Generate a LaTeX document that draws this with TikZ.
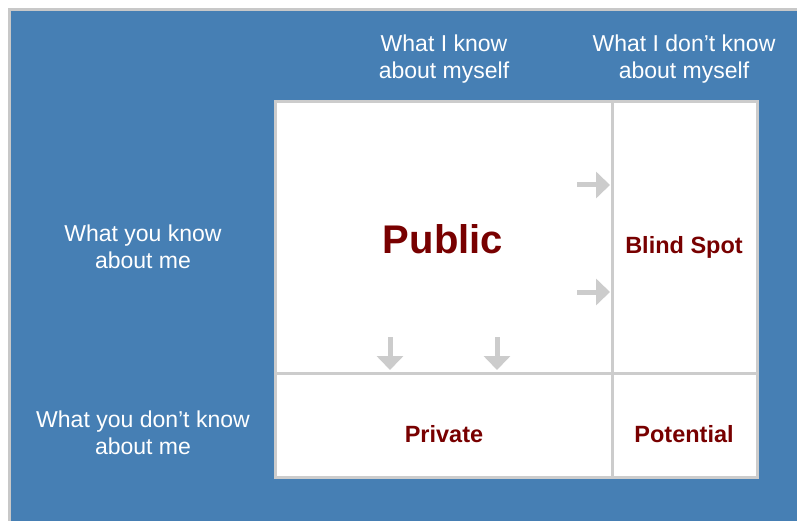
\documentclass[tikz,border=0pt]{standalone}
\usepackage{fontspec}
\setmainfont{Liberation Sans}
\usetikzlibrary{arrows.meta}
\definecolor{bgblue}{RGB}{70,127,180}
\definecolor{edgegray}{RGB}{200,200,200}
\definecolor{gridgray}{RGB}{204,204,204}
\definecolor{darkred}{RGB}{120,0,0}
\tikzset{
  header/.style={text=white, align=center, font=\fontsize{23}{27}\selectfont},
  cell/.style={text=darkred, font=\bfseries\fontsize{23.5}{28}\selectfont},
  bigcell/.style={text=darkred, font=\bfseries\fontsize{40}{46}\selectfont},
  flow/.style={draw=gridgray, line width=5pt, -{Triangle[length=14pt,width=26pt]}},
  gridline/.style={draw=gridgray, line width=3pt}
}
\begin{document}
\begin{tikzpicture}[x=1pt,y=-1pt]
\useasboundingbox (0,0) rectangle (797,521);
\fill[white] (0,0) rectangle (797,521);
\fill[edgegray] (8,8) rectangle (797,521);
\fill[bgblue] (11,11) rectangle (797,521);
% grid
\fill[white] (275,102) rectangle (757,477);
\draw[gridline] (275,102) rectangle (757,477);
\draw[gridline] (612,102) -- (612,477);
\draw[gridline] (275,373) -- (757,373);
% headers
\node[header] (h1) at (444,59) {What I know\\about myself};
\node[header] (h2) at (684,59) {What I don’t know\\about myself};
\node[header] (r1) at (143,246.5) {What you know\\about me};
\node[header] (r2) at (143,433) {What you don’t know\\about me};
% cells
\node[bigcell] (pub) at (443,239.5) {Public};
\node[cell] (blind) at (684,247.5) {Blind Spot};
\node[cell] (priv) at (444,434) {Private};
\node[cell] (pot) at (684,434) {Potential};
% arrows
\coordinate (a1s) at (577,185);
\coordinate (a1e) at (610,185);
\coordinate (a2s) at (577,292);
\coordinate (a2e) at (610,292);
\coordinate (d1s) at (390,337);
\coordinate (d1e) at (390,370);
\coordinate (d2s) at (497,337);
\coordinate (d2e) at (497,370);
\draw[flow] (a1s) -- (a1e);
\draw[flow] (a2s) -- (a2e);
\draw[flow] (d1s) -- (d1e);
\draw[flow] (d2s) -- (d2e);
\end{tikzpicture}
\end{document}
